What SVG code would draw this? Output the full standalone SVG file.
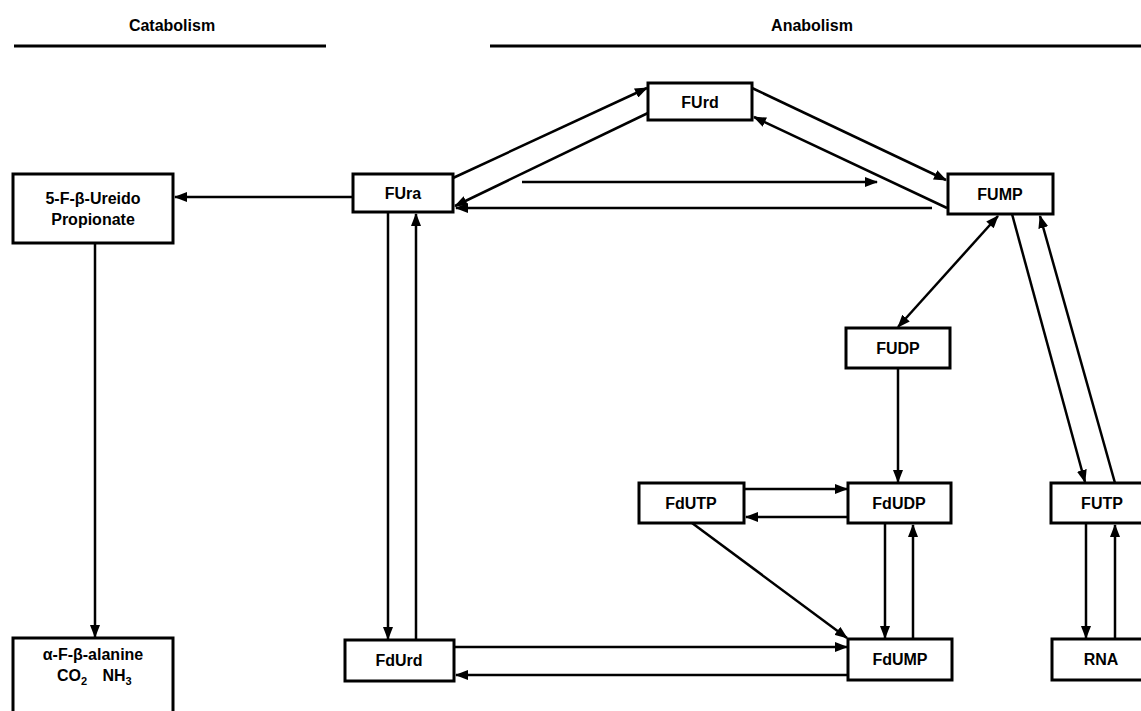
<svg xmlns="http://www.w3.org/2000/svg" width="1141" height="711" viewBox="0 0 1141 711">
<style>
.box{fill:#fff;stroke:#000;stroke-width:3}
.lbl{font-family:"Liberation Sans",Arial,sans-serif;font-weight:bold;font-size:16px;text-anchor:middle;fill:#000}
.hdr{font-family:"Liberation Sans",Arial,sans-serif;font-weight:bold;font-size:16px;text-anchor:middle;fill:#000}
.hl{stroke:#000;stroke-width:3}
.c{stroke:#000;stroke-width:2.5;fill:none}
.a{marker-end:url(#ah)}
</style>
<defs>
<marker id="ah" markerUnits="userSpaceOnUse" markerWidth="14" markerHeight="10" refX="12" refY="5" orient="auto">
<path d="M0,0 L13,5 L0,10 z" fill="#000"/>
</marker>
<marker id="as" markerUnits="userSpaceOnUse" markerWidth="14" markerHeight="10" refX="1" refY="5" orient="auto">
<path d="M13,0 L0,5 L13,10 z" fill="#000"/>
</marker>
</defs>
<rect width="1141" height="711" fill="#fff"/>
<g id="headers">
<text class="hdr" x="172" y="31">Catabolism</text>
<line class="hl" x1="14" y1="46" x2="326" y2="46"/>
<text class="hdr" x="812" y="31">Anabolism</text>
<line class="hl" x1="490" y1="46" x2="1141" y2="46"/>
</g>
<g id="connectors">
<line class="c a" x1="353" y1="197" x2="175" y2="197"/>
<line class="c a" x1="95" y1="243" x2="95" y2="637"/>
<line class="c a" x1="453" y1="178" x2="647" y2="88"/>
<line class="c a" x1="648" y1="113" x2="455" y2="206"/>
<line class="c a" x1="752" y1="88" x2="946" y2="180"/>
<line class="c a" x1="947" y1="208" x2="754" y2="117"/>
<line class="c a" x1="522" y1="182" x2="877" y2="182"/>
<line class="c a" x1="932" y1="208" x2="456" y2="208"/>
<line class="c a" x1="998" y1="216" x2="898" y2="327" marker-start="url(#as)"/>
<line class="c a" x1="898" y1="368" x2="898" y2="482"/>
<line class="c a" x1="1012" y1="214" x2="1085" y2="482"/>
<line class="c a" x1="1115" y1="483" x2="1040" y2="216"/>
<line class="c a" x1="744" y1="489" x2="847" y2="489"/>
<line class="c a" x1="848" y1="517" x2="746" y2="517"/>
<line class="c a" x1="692" y1="523" x2="847" y2="638"/>
<line class="c a" x1="885" y1="523" x2="885" y2="638"/>
<line class="c a" x1="913" y1="639" x2="913" y2="525"/>
<line class="c a" x1="1086" y1="523" x2="1086" y2="638"/>
<line class="c a" x1="1115" y1="639" x2="1115" y2="525"/>
<line class="c a" x1="388" y1="212" x2="388" y2="639"/>
<line class="c a" x1="416" y1="640" x2="416" y2="214"/>
<line class="c a" x1="454" y1="647" x2="847" y2="647"/>
<line class="c a" x1="848" y1="675" x2="456" y2="675"/>
</g>
<g id="ureido">
<rect class="box" x="13" y="174" width="160" height="69"/>
<text class="lbl" x="93" y="204">5-F-β-Ureido</text>
<text class="lbl" x="93" y="225">Propionate</text>
</g>
<g id="alanine">
<rect class="box" x="13" y="638" width="160" height="80"/>
<text class="lbl" x="93" y="660">α-F-β-alanine</text>
<text class="lbl" x="72" y="681">CO<tspan font-size="11" dy="4">2</tspan></text>
<text class="lbl" x="117" y="681">NH<tspan font-size="11" dy="4">3</tspan></text>
</g>
<g id="FUra">
<rect class="box" x="353" y="174" width="100" height="38"/>
<text class="lbl" x="403" y="199">FUra</text>
</g>
<g id="FUrd">
<rect class="box" x="648" y="83" width="104" height="37"/>
<text class="lbl" x="700" y="108">FUrd</text>
</g>
<g id="FUMP">
<rect class="box" x="948" y="174" width="105" height="40"/>
<text class="lbl" x="1000" y="200">FUMP</text>
</g>
<g id="FUDP">
<rect class="box" x="846" y="328" width="104" height="40"/>
<text class="lbl" x="898" y="354">FUDP</text>
</g>
<g id="FdUDP">
<rect class="box" x="848" y="483" width="103" height="40"/>
<text class="lbl" x="899" y="509">FdUDP</text>
</g>
<g id="FUTP">
<rect class="box" x="1051" y="483" width="100" height="40"/>
<text class="lbl" x="1102" y="509">FUTP</text>
</g>
<g id="FdUTP">
<rect class="box" x="639" y="483" width="105" height="40"/>
<text class="lbl" x="691" y="509">FdUTP</text>
</g>
<g id="FdUrd">
<rect class="box" x="345" y="640" width="109" height="41"/>
<text class="lbl" x="399" y="666">FdUrd</text>
</g>
<g id="FdUMP">
<rect class="box" x="848" y="639" width="104" height="41"/>
<text class="lbl" x="900" y="665">FdUMP</text>
</g>
<g id="RNA">
<rect class="box" x="1052" y="639" width="100" height="41"/>
<text class="lbl" x="1101" y="665">RNA</text>
</g>
</svg>
